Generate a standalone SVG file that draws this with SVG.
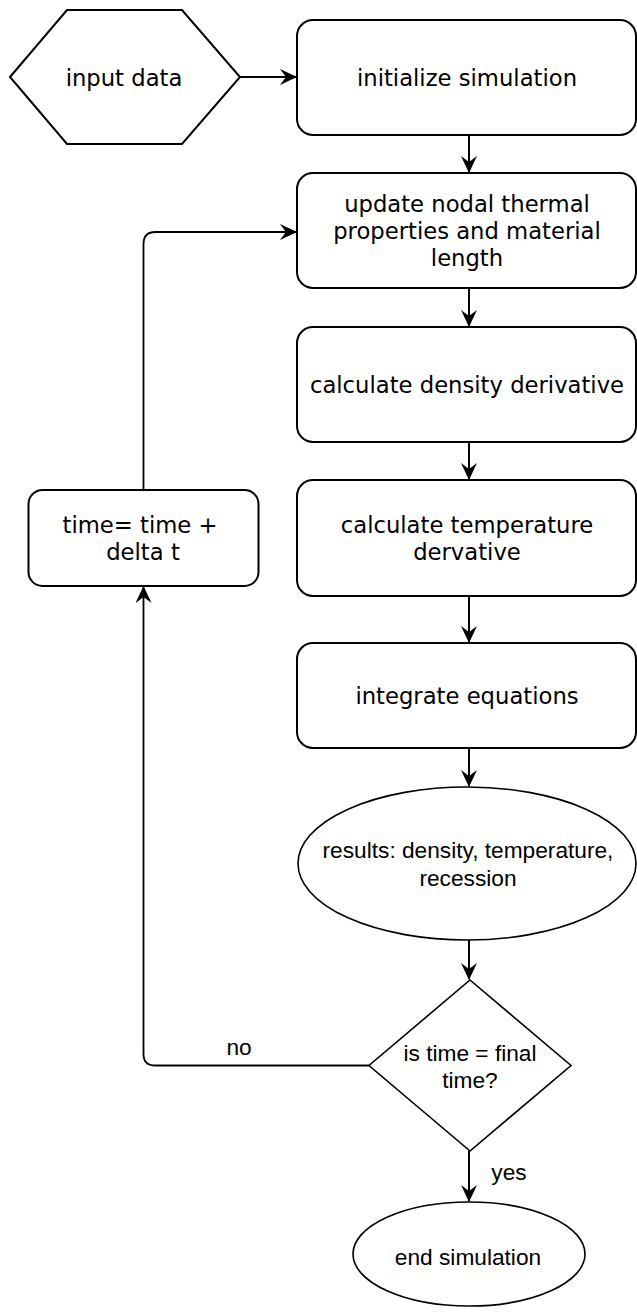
<svg xmlns="http://www.w3.org/2000/svg" width="637" height="1313" viewBox="0 0 637 1313">
<style>
.box{fill:#fff;stroke:#000;stroke-width:2}
.shape{fill:#fff;stroke:#000;stroke-width:1.6}
.dv{font-family:"DejaVu Sans",Verdana,sans-serif;font-size:22.7px;fill:#000;text-anchor:middle}
.lb{font-family:"Liberation Sans",Arial,sans-serif;font-size:22.7px;fill:#000;text-anchor:middle}
.edge{fill:none;stroke:#000;stroke-width:2}
.thin{fill:none;stroke:#000;stroke-width:1.8}
</style>
<defs>
<marker id="arr" viewBox="0 0 17 16" refX="16" refY="8" markerWidth="17" markerHeight="16" markerUnits="userSpaceOnUse" orient="auto">
<path d="M0,0 L17,8 L0,16 L6,8 Z" fill="#000"/>
</marker>
</defs>
<rect width="637" height="1313" fill="#fff"/>
<g id="connectors">
<path class="edge" d="M240,77 H296" marker-end="url(#arr)"/>
<path class="edge" d="M469,135 V172" marker-end="url(#arr)"/>
<path class="edge" d="M469,288 V326" marker-end="url(#arr)"/>
<path class="edge" d="M469,442 V479" marker-end="url(#arr)"/>
<path class="edge" d="M469,596 V642" marker-end="url(#arr)"/>
<path class="edge" d="M469,748 V786" marker-end="url(#arr)"/>
<path class="edge" d="M469,940 V979" marker-end="url(#arr)"/>
<path class="edge" d="M469,1151 V1201" marker-end="url(#arr)"/>
<path class="thin" d="M369,1065.5 H155 Q143.5,1065.5 143.5,1054 V587" marker-end="url(#arr)"/>
<path class="thin" d="M143.5,490 V244 Q143.5,232 155.5,232 H296" marker-end="url(#arr)"/>
<text class="lb" x="239" y="1055">no</text>
<text class="lb" x="509" y="1180">yes</text>
</g>
<g id="input">
<polygon class="box" points="10,77 67,10 182,10 240,77 182,144 67,144"/>
<text class="dv" x="124" y="86">input data</text>
</g>
<g id="init">
<rect class="box" x="297" y="20" width="339" height="115" rx="16"/>
<text class="dv" x="467" y="85.5">initialize simulation</text>
</g>
<g id="update">
<rect class="box" x="297" y="173" width="339" height="115" rx="16"/>
<text class="dv" x="467" y="211.5">update nodal thermal</text>
<text class="dv" x="467" y="238.7">properties and material</text>
<text class="dv" x="467" y="265.9">length</text>
</g>
<g id="density">
<rect class="box" x="297" y="327" width="339" height="115" rx="16"/>
<text class="dv" x="467" y="392.5">calculate density derivative</text>
</g>
<g id="temperature">
<rect class="box" x="297" y="480" width="339" height="116" rx="16"/>
<text class="dv" x="467" y="532.8">calculate temperature</text>
<text class="dv" x="467" y="560">dervative</text>
</g>
<g id="integrate">
<rect class="box" x="297" y="643" width="339" height="105" rx="16"/>
<text class="dv" x="467" y="704">integrate equations</text>
</g>
<g id="results">
<ellipse class="shape" cx="467" cy="863.5" rx="169" ry="76.5"/>
<text class="lb" x="468" y="858.3">results: density, temperature,</text>
<text class="lb" x="468" y="885.5">recession</text>
</g>
<g id="decision">
<polygon class="shape" points="470,980 571,1065.5 470,1151 369,1065.5"/>
<text class="lb" x="470" y="1060.8">is time = final</text>
<text class="lb" x="470" y="1087.5">time?</text>
</g>
<g id="timestep">
<rect class="box" x="28.5" y="490" width="230" height="96" rx="14"/>
<text class="dv" x="140" y="533.3">time= time +</text>
<text class="dv" x="143" y="560">delta t</text>
</g>
<g id="end">
<ellipse class="shape" cx="469" cy="1254" rx="116" ry="52"/>
<text class="lb" x="468" y="1265">end simulation</text>
</g>
</svg>
